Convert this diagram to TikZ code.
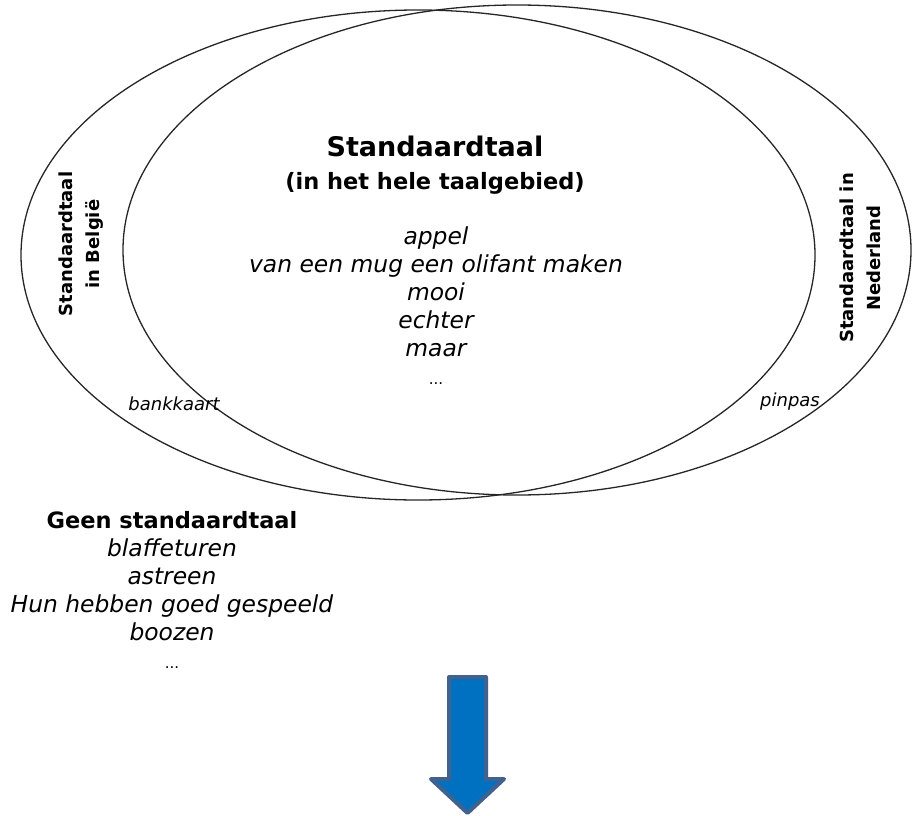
\documentclass[tikz,border=0pt]{standalone}
\usepackage{fontspec}
\setmainfont{DejaVu Sans}
\usetikzlibrary{positioning}
\usetikzlibrary{shapes.geometric}
\definecolor{arrowblue}{HTML}{0070C0}
\definecolor{arrowedge}{HTML}{41628F}
\tikzset {
  node distance={28pt},
  % the two language areas
  area/.style = {draw=black!85, line width=1.3pt, ellipse, inner sep=0pt},
  % bold headings and the word lists
  heading/.style = {font=\bfseries\fontsize{22.5}{27}\selectfont, text height=0.75em, text depth=0.2em, inner sep=0pt},
  word/.style = {font=\itshape\fontsize{23.4}{28}\selectfont, text height=0.75em, text depth=0.2em, inner sep=0pt},
  dots/.style = {word, font=\fontsize{15}{28}\selectfont},
  % regional words and the rotated side labels
  regional/.style = {font=\itshape\fontsize{18}{20}\selectfont, inner sep=0pt},
  side/.style = {font=\bfseries\fontsize{18}{27}\selectfont, rotate=90, align=center, inner sep=0pt},
}

\begin{document}
\begin{tikzpicture}[x=1pt, y=-1pt]
      \useasboundingbox (0,0) rectangle (913,816);

      \node[area, minimum width=794pt, minimum height=490pt] (be) at (418,255) {};
      \node[area, minimum width=788pt, minimum height=490pt] (nl) at (517,250) {};

      \node[heading, font=\bfseries\fontsize{27}{30}\selectfont] (std) at (435,154) {Standaardtaal};
      \node[heading] (hele) at (435,187) {(in het hele taalgebied)};

      \node[word] (w1) at (436,242) {appel};
      \node[word] (w2) [below of=w1] {van een mug een olifant maken};
      \node[word] (w3) [below of=w2] {mooi};
      \node[word] (w4) [below of=w3] {echter};
      \node[word] (w5) [below of=w4] {maar};
      \node[dots] (w6) [below of=w5] {...};

      \node[side] (belg) at (81,244) {Standaardtaal\\in België};
      \node[side] (ned) at (860,258) {Standaardtaal in\\Nederland};

      \node[regional] (bank) at (174,404) {bankkaart};
      \node[regional] (pin) at (790,402) {pinpas};

      \node[heading] (geen) at (172,526) {Geen standaardtaal};
      \node[word] (g1) [below of=geen] {blaffeturen};
      \node[word] (g2) [below of=g1] {astreen};
      \node[word] (g3) [below of=g2] {Hun hebben goed gespeeld};
      \node[word] (g4) [below of=g3] {boozen};
      \node[dots] (g5) [below of=g4] {...};

      \filldraw[fill=arrowblue, draw=arrowedge, line width=4pt, line join=round]
        (449,677) -- (486,677) -- (486,779) -- (504,779) -- (467.5,813)
        -- (431,779) -- (449,779) -- cycle;
    \end{tikzpicture}
\end{document}
